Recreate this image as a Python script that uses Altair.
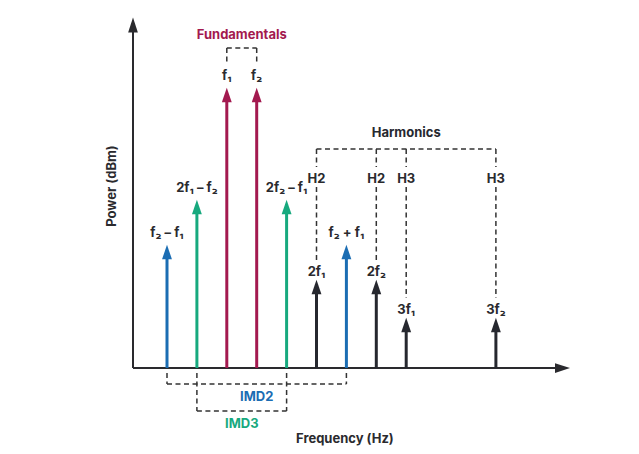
import altair as alt
import pandas as pd

# ---- data ----
labels = ["f₂ – f₁", "2f₁ – f₂", "f₁", "f₂", "2f₂ – f₁", "2f₁", "f₂ + f₁", "2f₂", "3f₁", "3f₂"]
freq = [1, 2, 3, 4, 5, 6, 7, 8, 9, 12]
power = [123, 168, 280, 280, 168, 88, 123, 88, 50, 50]
group = ["IMD2", "IMD3", "Fundamental", "Fundamental", "IMD3",
         "Harmonic", "IMD2", "Harmonic", "Harmonic", "Harmonic"]

harm_freq = [6, 8, 9, 12]
harm_order = ["H2", "H2", "H3", "H3"]
harm_power = [88, 88, 50, 50]

fund_freq = [3, 4]
imd2_freq = [1, 7]
imd3_freq = [2, 5]

group_names = ["Fundamental", "IMD2", "IMD3", "Harmonic"]
group_colors = ["#a3194f", "#1b6db3", "#17a97e", "#26282f"]

FONT = "Inter"
FS = 13
DARK = "#2a2a2e"
DASH = "#333333"

# ---- scales (1 power unit = 1 px, 1 freq unit = 29.9 px) ----
K = 29.9
X_MIN = 1 - (167 - 8) / K
W, H = 615, 438
xs = alt.Scale(domain=[X_MIN, X_MIN + W / K], nice=False, zero=False)
ys = alt.Scale(domain=[360 - H, 360], nice=False, zero=False)


def X(f="x"):
    return alt.X(f"{f}:Q", scale=xs, axis=None)


def Y(f="y"):
    return alt.Y(f"{f}:Q", scale=ys, axis=None)


col = alt.Color("group:N", scale=alt.Scale(domain=group_names, range=group_colors), legend=None)

df = pd.DataFrame({"x": freq, "p": power, "group": group, "text": labels})
df["y0"] = 0
df["stem_top"] = df["p"] - 9
df["head"] = df["p"] - 7
df["label_y"] = [p + (8 if g == "Harmonic" else 12.5) for p, g in zip(power, group)]

stems = alt.Chart(df).mark_rule(strokeWidth=3).encode(
    x=X("x"), y=Y("y0"), y2=alt.Y2("stem_top:Q"), color=col)
heads = alt.Chart(df).mark_point(
    shape="M0,-1L0.68,1L-0.68,1Z", filled=True, size=210, opacity=1, strokeWidth=0
).encode(x=X("x"), y=Y("head"), color=col)
labs = alt.Chart(df).mark_text(
    font=FONT, fontWeight="bold", fontSize=FS, color=DARK, baseline="middle", align="center"
).encode(x=X("x"), y=Y("label_y"), text="text:N")

# ---- axes drawn as arrows ----
AX = 1 - (167 - 133) / K
X_TIP = 1 + (570 - 167) / K
axis_lines = pd.DataFrame({
    "x": [AX, AX], "x2": [AX, X_TIP - 10 / K],
    "y": [0, 0], "y2": [340, 0]})
axes = alt.Chart(axis_lines).mark_rule(strokeWidth=2, color=DARK).encode(
    x=X("x"), x2=alt.X2("x2:Q"), y=Y("y"), y2=alt.Y2("y2:Q"))
up_head = alt.Chart(pd.DataFrame({"x": [AX], "y": [343]})).mark_point(
    shape="M0,-1L0.65,1L-0.65,1Z", filled=True, size=225, opacity=1, strokeWidth=0, color=DARK
).encode(x=X("x"), y=Y("y"))
right_head = alt.Chart(pd.DataFrame({"x": [X_TIP - 7.5 / K], "y": [0]})).mark_point(
    shape="M1,0L-1,-0.65L-1,0.65Z", filled=True, size=225, opacity=1, strokeWidth=0, color=DARK
).encode(x=X("x"), y=Y("y"))

# ---- dashed brackets ----
segs = []
F_TOP = 320
segs.append((fund_freq[0], F_TOP, fund_freq[1], F_TOP))
for f in fund_freq:
    segs.append((f, F_TOP, f, 304))
H_TOP = 219
segs.append((min(harm_freq), H_TOP, max(harm_freq), H_TOP))
for f, p in zip(harm_freq, harm_power):
    segs.append((f, H_TOP, f, 201))
    segs.append((f, 181, f, p + 20))
segs.append((imd2_freq[0], -16, imd2_freq[1], -16))
for f in imd2_freq:
    segs.append((f, -5, f, -16))
segs.append((imd3_freq[0], -43, imd3_freq[1], -43))
for f in imd3_freq:
    segs.append((f, -5, f, -43))
seg_df = pd.DataFrame(segs, columns=["x", "y", "x2", "y2"])
dashes = alt.Chart(seg_df).mark_rule(strokeWidth=1.5, strokeDash=[5, 3.5], color=DASH).encode(
    x=X("x"), y=Y("y"), x2=alt.X2("x2:Q"), y2=alt.Y2("y2:Q"))

hlab = alt.Chart(pd.DataFrame({"x": harm_freq, "y": [189] * 4, "text": harm_order})).mark_text(
    font=FONT, fontWeight="bold", fontSize=FS, color=DARK, baseline="middle", align="center"
).encode(x=X("x"), y=Y("y"), text="text:N")

# ---- group titles ----
titles = pd.DataFrame({
    "text": ["Fundamentals", "Harmonics", "IMD2", "IMD3"],
    "group": ["Fundamental", "Harmonic", "IMD2", "IMD3"],
    "x": [sum(fund_freq) / 2, 9, 4, sum(imd3_freq) / 2],
    "y": [333, 235, -29, -56]})
title_marks = alt.Chart(titles).mark_text(
    font=FONT, fontWeight="bold", fontSize=FS, baseline="middle", align="center"
).encode(x=X("x"), y=Y("y"), text="text:N", color=col)

xt = alt.Chart(pd.DataFrame({"x": [6.95], "y": [-71], "text": ["Frequency (Hz)"]})).mark_text(
    font=FONT, fontWeight="bold", fontSize=FS, color=DARK, baseline="middle", align="center"
).encode(x=X("x"), y=Y("y"), text="text:N")
yt = alt.Chart(pd.DataFrame({"x": [1 + (112 - 167) / K], "y": [182], "text": ["Power (dBm)"]})).mark_text(
    font=FONT, fontWeight="bold", fontSize=FS, color=DARK, baseline="middle", align="center", angle=270
).encode(x=X("x"), y=Y("y"), text="text:N")

chart = alt.layer(
    dashes, axes, up_head, right_head, stems, heads, labs, hlab, title_marks, xt, yt
).properties(width=W, height=H, padding=0, autosize="none").configure_view(stroke=None)

chart.save("out.html", embed_options={"renderer": "svg", "actions": False})
